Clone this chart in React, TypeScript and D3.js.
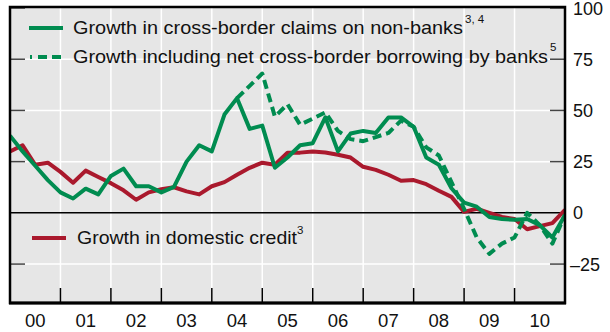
import React from "react";
import * as d3 from "d3";

const years = ["00", "01", "02", "03", "04", "05", "06", "07", "08", "09", "10"];
const yTicks = [100, 75, 50, 25, 0, -25];

// quarterly values, index k -> 2000 + k/4
const domesticCredit = [
  30, 33, 23.5, 24.5, 20, 14.7, 20.6, 17.5, 14.5, 11, 6.4, 10, 11.5, 12.5, 10.5, 9,
  13, 15, 18.6, 22, 24.5, 23.5, 29.4, 29.4, 30, 29.5, 28.4, 27, 22.5, 21, 18.6, 15.7,
  16, 14, 10.8, 7.8, 0.5, 2, 0, -2, -3, -8, -6.5, -5, 1.5,
];
const crossBorder = [
  37.7, 30, 23, 16, 10, 7, 11.8, 9, 18, 21.6, 13, 13, 10, 12.7, 25, 33,
  30, 48, 56, 41, 42.6, 22, 27, 33, 34, 46.6, 30, 38.7, 40, 39, 46.6, 46.6,
  42, 27, 23.5, 12, 5, 3, -2, -3, -3.4, -3, -6, -12, -1,
];
const inclBorrowingStart = 18;
const inclBorrowing = [
  56, 62, 68, 47, 53, 43, 46, 49, 40, 36, 35, 37, 39, 45,
  42, 32, 28, 15, 2, -12, -20, -15, -12, 0, -6, -15, -1,
];

const legendLabels = [
  "Growth in cross-border claims on non-banks",
  "Growth including net cross-border borrowing by banks",
  "Growth in domestic credit",
];
const legendNotes = ["3, 4", "5", "3"];

const GREEN = "#008c50";
const RED = "#aa192d";
const FONT = "'Liberation Sans', Arial, Helvetica, sans-serif";

export default function App() {
  const W = 610, H = 332;
  const L = 10, R = 565, T = 7, B = 303;
  const x = d3.scaleLinear().domain([2000, 2011]).range([L, R]);
  const y = d3.scaleLinear().domain([-44, 100]).range([B, 8]);

  const line = d3
    .line<number>()
    .x((_, i) => x(2000 + i / 4))
    .y((d) => y(d));
  const lineDash = d3
    .line<number>()
    .x((_, i) => x(2000 + (i + inclBorrowingStart) / 4))
    .y((d) => y(d));

  const yearBounds = d3.range(2001, 2011);

  return (
    <svg width={W} height={H} style={{ position: "absolute", left: 0, top: 0 }} fontFamily={FONT}>
      <defs>
        <clipPath id="plot">
          <rect x={L} y={T} width={R - L} height={B - T} />
        </clipPath>
      </defs>
      <rect x={0} y={0} width={W} height={H} fill="#fff" />
      <rect x={L} y={T} width={R - L} height={B - T} fill="#e6e6e6" />
      {/* grid */}
      {yearBounds.map((yr) => (
        <line key={"v" + yr} x1={x(yr)} x2={x(yr)} y1={T} y2={B} stroke="#fff" strokeWidth={1.5} />
      ))}
      {yTicks.filter((t) => t !== 0 && t !== 100).map((t) => (
        <line key={"h" + t} x1={L} x2={R} y1={y(t)} y2={y(t)} stroke="#fff" strokeWidth={1.5} />
      ))}
      {/* y ticks inside both sides */}
      {yTicks.filter((t) => t !== 0).map((t) => (
        <g key={"t" + t}>
          <line x1={L} x2={L + 15} y1={y(t)} y2={y(t)} stroke="#444" strokeWidth={1.5} />
          <line x1={R - 15} x2={R} y1={y(t)} y2={y(t)} stroke="#444" strokeWidth={1.5} />
        </g>
      ))}
      {/* zero line */}
      <line x1={L} x2={R} y1={y(0)} y2={y(0)} stroke="#000" strokeWidth={1.5} />
      {/* x ticks */}
      {yearBounds.map((yr) => (
        <line key={"xt" + yr} x1={x(yr)} x2={x(yr)} y1={B} y2={B - 15} stroke="#000" strokeWidth={1.5} />
      ))}

      {/* legend */}
      <line x1={29} x2={63} y1={28} y2={28} stroke={GREEN} strokeWidth={4} />
      <text x={73} y={34} fontSize={18.5} fill="#111" textLength={390} lengthAdjust="spacingAndGlyphs">
        {legendLabels[0]}
      </text>
      <text x={465} y={23} fontSize={11.5} fill="#111">{legendNotes[0]}</text>

      <line x1={30} x2={63} y1={57} y2={57} stroke={GREEN} strokeWidth={4} strokeDasharray="2,6,9,5,9,5" />
      <text x={73} y={63} fontSize={18.5} fill="#111" textLength={475} lengthAdjust="spacingAndGlyphs">
        {legendLabels[1]}
      </text>
      <text x={550} y={51} fontSize={11.5} fill="#111">{legendNotes[1]}</text>

      <line x1={32} x2={66} y1={238} y2={238} stroke={RED} strokeWidth={4} />
      <text x={77} y={244} fontSize={18.5} fill="#111" textLength={220} lengthAdjust="spacingAndGlyphs">
        {legendLabels[2]}
      </text>
      <text x={297} y={234} fontSize={11.5} fill="#111">{legendNotes[2]}</text>

      <g clipPath="url(#plot)" fill="none" strokeLinejoin="round">
        <path d={line(domesticCredit) || ""} stroke={RED} strokeWidth={4} />
        <path d={lineDash(inclBorrowing) || ""} stroke={GREEN} strokeWidth={4} strokeDasharray="9,5" />
        <path d={line(crossBorder) || ""} stroke={GREEN} strokeWidth={4} />
      </g>

      {/* frame */}
      <rect x={L} y={T} width={R - L} height={B - T} fill="none" stroke="#000" strokeWidth={2.5} />
      <line x1={L - 1} x2={R + 1} y1={B} y2={B} stroke="#000" strokeWidth={3} />

      {/* right axis labels */}
      {yTicks.map((t) => (
        <text key={"yl" + t} x={t < 0 ? 570 : 573} y={y(t) + 6.5} fontSize={18} fill="#111">
          {t < 0 ? "\u2013" + Math.abs(t) : String(t)}
        </text>
      ))}
      {/* x labels */}
      {years.map((yr, i) => (
        <text key={"xl" + yr} x={x(2000 + i + 0.5)} y={327} fontSize={18.5} textAnchor="middle" fill="#111">
          {yr}
        </text>
      ))}
    </svg>
  );
}
